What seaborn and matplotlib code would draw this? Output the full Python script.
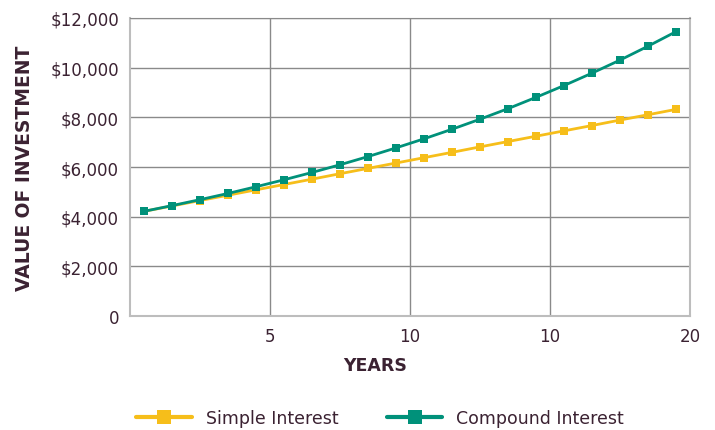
import matplotlib.pyplot as plt
import seaborn as sns
import pandas as pd

# Values
years = [0.5, 1.5, 2.5, 3.5, 4.5, 5.5, 6.5, 7.5, 8.5, 9.5,
         10.5, 11.5, 12.5, 13.5, 14.5, 15.5, 16.5, 17.5, 18.5, 19.5]
simple = [4215, 4430, 4650, 4865, 5080, 5295, 5510, 5730, 5945, 6160,
          6375, 6590, 6810, 7025, 7240, 7455, 7670, 7890, 8105, 8320]
compound = [4215, 4445, 4685, 4935, 5205, 5485, 5780, 6090, 6420, 6770,
            7135, 7520, 7925, 8350, 8805, 9280, 9780, 10305, 10865, 11450]
series_names = ['Simple Interest', 'Compound Interest']
x_ticks = [5, 10, 15, 20]
x_tick_labels = ['5', '10', '10', '20']
y_ticks = [0, 2000, 4000, 6000, 8000, 10000, 12000]
y_tick_labels = ['0', '$2,000', '$4,000', '$6,000', '$8,000', '$10,000', '$12,000']

text_color = '#3B2232'
palette = {'Simple Interest': '#F6BE1A', 'Compound Interest': '#00917A'}

df = pd.DataFrame({
    'year': years * 2,
    'value': simple + compound,
    'series': [series_names[0]] * len(years) + [series_names[1]] * len(years),
})

sns.set_style('white')
plt.rcParams['font.family'] = ['DejaVu Sans']

fig = plt.figure(figsize=(7.15, 4.31), dpi=100)
ax = fig.add_axes([130 / 715, 1 - 317 / 431, 560 / 715, 298 / 431])

sns.lineplot(data=df, x='year', y='value', hue='series', style='series',
             markers=['s', 's'], dashes=False, palette=palette,
             linewidth=2.0, markersize=6, markeredgewidth=0, ax=ax)

ax.set_xlim(0, 20)
ax.set_ylim(0, 12000)
ax.set_xticks(x_ticks)
ax.set_xticklabels(x_tick_labels)
ax.set_yticks(y_ticks)
ax.set_yticklabels(y_tick_labels)
ax.tick_params(length=0, labelsize=12, labelcolor=text_color, pad=8)
ax.grid(True, color='#8a8a8a', linewidth=1)
ax.set_axisbelow(True)
for side in ['left', 'bottom', 'right']:
    ax.spines[side].set_color('#bdbdbd')
    ax.spines[side].set_linewidth(1.5)
ax.spines['top'].set_color('#8a8a8a')

ax.set_xlabel('YEARS', fontsize=12.5, fontweight='bold', color=text_color)
ax.xaxis.set_label_coords(245 / 560, -40 / 298)
ax.set_ylabel('VALUE OF INVESTMENT', fontsize=13.5, fontweight='bold', color=text_color)
ax.yaxis.set_label_coords(-96 / 560, 0.5)

handles, labels = ax.get_legend_handles_labels()
ax.legend_.remove()
leg = fig.legend(handles, labels, loc='center', bbox_to_anchor=(380 / 715, 1 - 419 / 431),
                 ncol=2, frameon=False, fontsize=12.5, handlelength=3.2,
                 columnspacing=2.8, handletextpad=0.8, labelcolor=text_color)
for h in leg.legend_handles:
    h.set_markersize(10)
    h.set_linewidth(3)

plt.savefig('out.png', dpi=100)
